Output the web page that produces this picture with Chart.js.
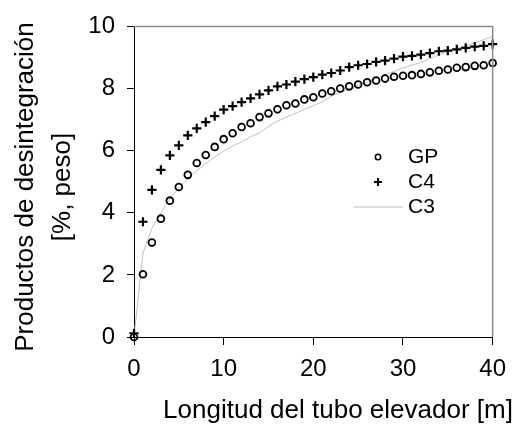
<!DOCTYPE html>
<html>
<head>
<meta charset="utf-8">
<script src="https://cdn.jsdelivr.net/npm/chart.js@4.4.0/dist/chart.umd.min.js"></script>
<style>
html, body { margin: 0; padding: 0; background: #fff; }
#wrap { width: 516px; height: 428px; }
</style>
</head>
<body>
<div id="wrap"><canvas id="chart"></canvas></div>
<script>
var lengths = [0, 1, 2, 3, 4, 5, 6, 7, 8, 9, 10, 11, 12, 13, 14, 15, 16, 17, 18, 19, 20,
    21, 22, 23, 24, 25, 26, 27, 28, 29, 30, 31, 32, 33, 34, 35, 36, 37, 38, 39, 40];
var gpValues = [0, 2.02, 3.04, 3.81, 4.39, 4.83, 5.22, 5.6, 5.86, 6.12, 6.37, 6.56, 6.76, 6.88, 7.08,
    7.2, 7.33, 7.46, 7.52, 7.65, 7.72, 7.84, 7.91, 8.0, 8.07, 8.13, 8.2, 8.26, 8.32, 8.38, 8.41,
    8.43, 8.47, 8.52, 8.57, 8.61, 8.67, 8.69, 8.73, 8.75, 8.82];
var c4Values = [0.12, 3.71, 4.74, 5.38, 5.85, 6.17, 6.49, 6.72, 6.92, 7.11, 7.32, 7.43, 7.56, 7.68, 7.81,
    7.94, 8.07, 8.13, 8.22, 8.3, 8.37, 8.45, 8.5, 8.58, 8.69, 8.75, 8.79, 8.86, 8.9, 8.96, 9.03,
    9.05, 9.09, 9.14, 9.2, 9.22, 9.26, 9.31, 9.35, 9.37, 9.43];
var c3Values = [0, 2.7, 3.5, 4.0, 4.45, 4.8, 5.1, 5.35, 5.58, 5.8, 5.98, 6.15, 6.28, 6.45, 6.57,
    6.78, 6.95, 7.08, 7.2, 7.33, 7.45, 7.57, 7.75, 7.87, 7.98, 8.1, 8.22, 8.32, 8.44, 8.55, 8.66,
    8.76, 8.84, 8.96, 9.08, 9.2, 9.3, 9.37, 9.47, 9.57, 9.67];
var xTicks = [0, 10, 20, 30, 40];
var yTicks = [0, 2, 4, 6, 8, 10];
var seriesNames = ['GP', 'C4', 'C3'];

const FONT = 'Liberation Sans, Arial, sans-serif';

function points(values) {
    return lengths.map((x, i) => ({x: x, y: values[i]}));
}

// marco gris arriba/derecha, leyenda y titulos de ejes
const extras = {
    id: 'extras',
    afterDraw(chart) {
        const ctx = chart.ctx;
        const a = chart.chartArea;
        ctx.save();
        ctx.strokeStyle = '#8c8c8c';
        ctx.lineWidth = 1.5;
        ctx.beginPath();
        ctx.moveTo(a.left, a.top);
        ctx.lineTo(a.right, a.top);
        ctx.lineTo(a.right, a.bottom);
        ctx.stroke();

        // leyenda
        ctx.fillStyle = '#000';
        ctx.font = '21px ' + FONT;
        ctx.textBaseline = 'middle';
        ctx.textAlign = 'left';
        var ly = [157, 182, 207];
        seriesNames.forEach((n, i) => ctx.fillText(n, 408, ly[i]));
        ctx.strokeStyle = '#000';
        ctx.lineWidth = 1.6;
        ctx.beginPath();
        ctx.arc(378, ly[0], 2.7, 0, Math.PI * 2);
        ctx.stroke();
        ctx.lineWidth = 2;
        ctx.beginPath();
        ctx.moveTo(374, ly[1]); ctx.lineTo(382, ly[1]);
        ctx.moveTo(378, ly[1] - 4); ctx.lineTo(378, ly[1] + 4);
        ctx.stroke();
        ctx.strokeStyle = '#c0c0c0';
        ctx.lineWidth = 1;
        ctx.beginPath();
        ctx.moveTo(353, ly[2]); ctx.lineTo(403, ly[2]);
        ctx.stroke();

        // titulos
        ctx.fillStyle = '#000';
        ctx.font = '26px ' + FONT;
        ctx.textAlign = 'center';
        ctx.fillText('Longitud del tubo elevador [m]', 338, 411);
        ctx.translate(0, 187);
        ctx.rotate(-Math.PI / 2);
        ctx.fillText('Productos de desintegración', 0, 26);
        ctx.fillText('[%, peso]', 0, 63);
        ctx.restore();
    }
};

const ctx = document.getElementById('chart').getContext('2d');
var chart = new Chart(ctx, {
    type: 'scatter',
    data: {
        datasets: [{
            label: seriesNames[0],
            data: points(gpValues),
            pointStyle: 'circle',
            pointRadius: 3.4,
            borderColor: '#000',
            backgroundColor: 'rgba(0,0,0,0)',
            borderWidth: 1.8,
            clip: false,
            order: 1
        }, {
            label: seriesNames[1],
            data: points(c4Values),
            pointStyle: 'cross',
            pointRadius: 4.6,
            borderColor: '#000',
            borderWidth: 2.2,
            clip: false,
            order: 2
        }, {
            label: seriesNames[2],
            type: 'line',
            data: points(c3Values),
            borderColor: '#c0c0c0',
            borderWidth: 1,
            pointRadius: 0,
            tension: 0,
            fill: false,
            order: 3
        }]
    },
    options: {
        responsive: true,
        maintainAspectRatio: false,
        animation: false,
        layout: { padding: { top: 24, right: 18, left: 0, bottom: 0 } },
        plugins: {
            legend: { display: false },
            tooltip: { enabled: false }
        },
        scales: {
            x: {
                type: 'linear',
                min: 0,
                max: 40,
                afterBuildTicks: s => { s.ticks = xTicks.map(v => ({value: v})); },
                afterFit: s => { s.height = 91; },
                ticks: { font: { family: FONT, size: 24 }, color: '#000', padding: 10, maxRotation: 0 },
                grid: { drawOnChartArea: false, drawTicks: true, tickLength: 8, color: '#000' },
                border: { color: '#000', width: 1 }
            },
            y: {
                min: 0,
                max: 10,
                afterBuildTicks: s => { s.ticks = yTicks.map(v => ({value: v})); },
                afterFit: s => { s.width = 134; },
                ticks: { font: { family: FONT, size: 24 }, color: '#000', padding: 12 },
                grid: { drawOnChartArea: false, drawTicks: true, tickLength: 7, color: '#000' },
                border: { color: '#000', width: 1 }
            }
        }
    },
    plugins: [extras]
});
</script>
</body>
</html>
